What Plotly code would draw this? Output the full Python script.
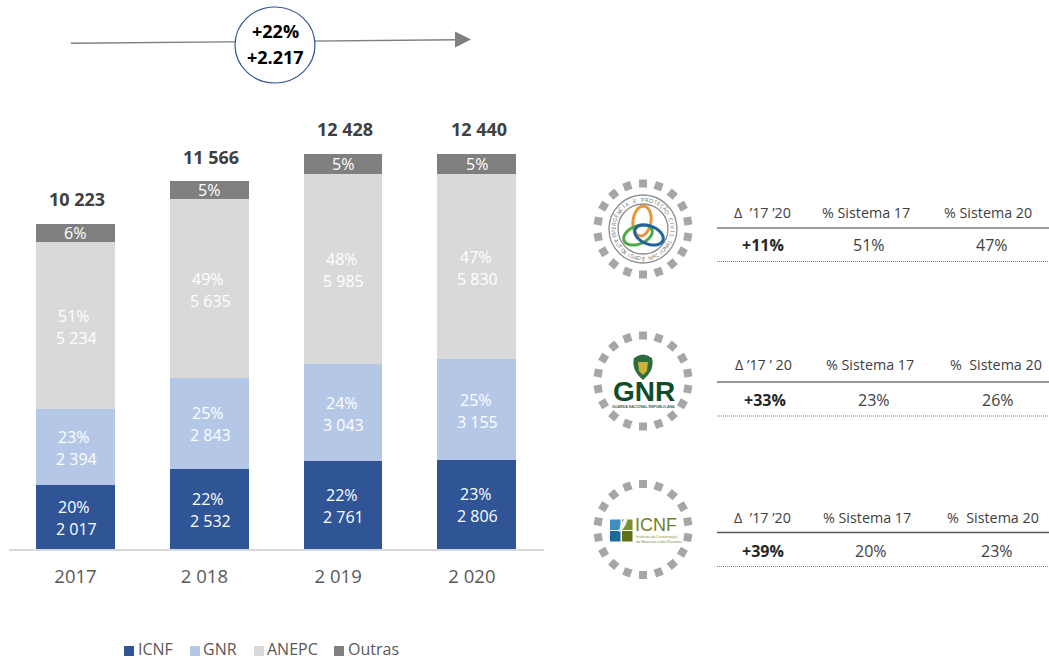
import math
import plotly.graph_objects as go

# ---------- data ----------
years = ["2017", "2018", "2019", "2020"]
year_labels = ["2017", "2 018\u00a0\u00a0", "2 019\u00a0\u00a0", "2 020\u00a0\u00a0"]
series_names = ["ICNF", "GNR", "ANEPC", "Outras"]
icnf = [2017, 2532, 2761, 2806]
gnr = [2394, 2843, 3043, 3155]
anepc = [5234, 5635, 5985, 5830]
outras = [578, 556, 639, 649]
totals = [10223, 11566, 12428, 12440]
icnf_pct = ["20%", "22%", "22%", "23%"]
gnr_pct = ["23%", "25%", "24%", "25%"]
anepc_pct = ["51%", "49%", "48%", "47%"]
outras_pct = ["6%", "5%", "5%", "5%"]
series_colors = ["#2F5597", "#B4C7E7", "#D9D9D9", "#7F7F7F"]

headers_anepc = ["\u0394  \u201917 \u201920", "% Sistema 17", "% Sistema 20"]
headers_gnr = ["\u0394 \u201917 \u2019 20", "% Sistema 17", "%  Sistema 20"]
headers_icnf = ["\u0394  \u201917 \u201920", "% Sistema 17", "%  Sistema 20"]
values_anepc = ["+11%", "51%", "47%"]
values_gnr = ["+33%", "23%", "26%"]
values_icnf = ["+39%", "20%", "23%"]
growth_label = ["+22%", "+2.217"]

W, H = 1049, 659
BASE_Y = 549
SCALE = (549 - 153.5) / 12440
FONT = "Open Sans"

fig = go.Figure()
stack = [(icnf, icnf_pct), (gnr, gnr_pct), (anepc, anepc_pct), (outras, outras_pct)]
for name, color, (vals, _) in zip(series_names, series_colors, stack):
    fig.add_trace(go.Bar(x=years, y=vals, name=name, marker=dict(color=color, line=dict(width=0)),
                         showlegend=False, hoverinfo="x+y+name"))

ann = []
shapes = []


def px_text(x, y, text, size=14, color="#404040", bold=False, angle=0, family=FONT, xanchor="center"):
    ann.append(dict(x=x, y=y, xref="x2", yref="y2", text=f"<b>{text}</b>" if bold else text,
                    showarrow=False, xanchor=xanchor, yanchor="middle", textangle=angle,
                    font=dict(size=size, color=color, family=family), borderpad=0, borderwidth=0))


def fmt(v):
    return f"{v:,}".replace(",", " ")


# labels inside the bars (x = category position)
for j, yr in enumerate(years):
    bottom = 0
    for k, (vals, pcts) in enumerate(stack):
        mid = bottom + vals[j] / 2
        bottom += vals[j]
        if k == 3:
            ann.append(dict(x=j, y=mid, xref="x", yref="y", text=pcts[j], showarrow=False,
                            font=dict(size=16, color="white", family=FONT)))
        else:
            ann.append(dict(x=j, y=mid, xref="x", yref="y", text=pcts[j], showarrow=False, yshift=10,
                            xshift=-1, font=dict(size=16, color="white", family=FONT)))
            ann.append(dict(x=j, y=mid, xref="x", yref="y", text=fmt(vals[j]), showarrow=False, yshift=-12,
                            xshift=1, font=dict(size=16, color="white", family=FONT)))
    ann.append(dict(x=j, y=totals[j], xref="x", yref="y", text=f"<b>{fmt(totals[j])}</b>", showarrow=False,
                    yshift=24.5, xshift=2, font=dict(size=18, color="#404040", family=FONT)))

# growth arrow and badge
shapes.append(dict(type="line", xref="x2", yref="y2", x0=71, y0=43.3, x1=458, y1=39.7,
                   line=dict(color="#7F7F7F", width=1.4)))
shapes.append(dict(type="path", xref="x2", yref="y2", path="M455,31.5 L471,39.5 L455,47.5 Z",
                   fillcolor="#7F7F7F", line=dict(width=0)))
shapes.append(dict(type="circle", xref="x2", yref="y2", x0=235, y0=7, x1=315, y1=83,
                   fillcolor="white", line=dict(color="#2F5597", width=1.2)))
px_text(275.5, 31, growth_label[0], size=18, color="#000000", bold=True)
px_text(275.5, 57, growth_label[1], size=18, color="#000000", bold=True)

# legend
legend_square_x = [124, 190, 254, 334]
legend_text_x = [138, 203, 267, 348]
for name, color, sx, tx in zip(series_names, series_colors, legend_square_x, legend_text_x):
    shapes.append(dict(type="rect", xref="x2", yref="y2", x0=sx, x1=sx + 10, y0=646, y1=656,
                       fillcolor=color, line=dict(width=0)))
    px_text(tx, 649, name, size=16, color="#595959", xanchor="left")


# tables
def table(headers, values, hx, vx, hy, rule_y, vy, dot_y, rule_color, rule_w):
    for h, x in zip(headers, hx):
        px_text(x, hy, h, size=14.3, color="#404040")
    for i, (v, x) in enumerate(zip(values, vx)):
        px_text(x, vy, v, size=16, color="#262626" if i == 0 else "#404040", bold=i == 0)
    shapes.append(dict(type="line", xref="x2", yref="y2", x0=717, x1=1049, y0=rule_y, y1=rule_y,
                       line=dict(color=rule_color, width=rule_w)))
    shapes.append(dict(type="line", xref="x2", yref="y2", x0=717, x1=1049, y0=dot_y, y1=dot_y,
                       line=dict(color="#7F7F7F", width=1, dash="1px,1px")))


table(headers_anepc, values_anepc, [762, 866, 988], [763, 869, 992], 212.5, 228, 245, 261.5, "#7F7F7F", 1.6)
table(headers_gnr, values_gnr, [763, 870, 996], [765, 874, 998], 364, 382, 400, 416, "#333333", 1.2)
table(headers_icnf, values_icnf, [762, 867, 993], [763, 871, 997], 517, 532.5, 550.5, 566.5, "#595959", 1.4)

# logos: dashed grey ring of rotated squares
ring_x, ring_y, ring_a = [], [], []
for cx, cy in [(643, 229), (643, 381), (643, 529.5)]:
    for i in range(18):
        t = i * 20
        ring_x.append(cx + 45.5 * math.sin(math.radians(t)))
        ring_y.append(cy - 45.5 * math.cos(math.radians(t)))
        ring_a.append(t)
fig.add_trace(go.Scatter(x=ring_x, y=ring_y, xaxis="x2", yaxis="y2", mode="markers", showlegend=False,
                         hoverinfo="skip",
                         marker=dict(symbol="square", size=8, color="#A6A6A6", angle=ring_a, line=dict(width=0))))


def ellipse_path(cx, cy, rx, ry, rot):
    r = math.radians(rot)
    pts = []
    for d in range(0, 360, 12):
        a = math.radians(d)
        ex, ey = rx * math.cos(a), ry * math.sin(a)
        pts.append(f"{cx + ex * math.cos(r) - ey * math.sin(r):.2f},{cy + ex * math.sin(r) + ey * math.cos(r):.2f}")
    return "M" + " L".join(pts) + " Z"


def logo_shape(path, fill="rgba(0,0,0,0)", line="rgba(0,0,0,0)", width=0):
    shapes.append(dict(type="path", xref="x2", yref="y2", path=path, fillcolor=fill,
                       line=dict(color=line, width=width)))


# ANEPC emblem
for r, c, w in [(34, "#8C8C8C", 1.3), (25, "#8C8C8C", 1.3)]:
    shapes.append(dict(type="circle", xref="x2", yref="y2", x0=643 - r, x1=643 + r, y0=229 - r, y1=229 + r,
                       line=dict(color=c, width=w)))
logo_shape(ellipse_path(642, 221, 9, 15, 8), line="#E8973A", width=3)
logo_shape(ellipse_path(638, 235, 15, 9, -22), line="#4FA84A", width=3)
logo_shape(ellipse_path(649, 235, 15, 9, 22), line="#23629F", width=3)
top_text = "EMERGÊNCIA E PROTEÇÃO CIVIL"
for i, ch in enumerate(top_text):
    t = -104 + i * 208 / (len(top_text) - 1)
    if ch != " ":
        px_text(643 + 29.5 * math.sin(math.radians(t)), 229 - 29.5 * math.cos(math.radians(t)), ch,
                size=5.5, color="#6E6E6E", angle=t)
bottom_text = "AUTORIDADE NACIONAL"
for i, ch in enumerate(bottom_text):
    t = -66 + i * 132 / (len(bottom_text) - 1)
    if ch != " ":
        px_text(643 + 29.5 * math.sin(math.radians(t)), 229 + 29.5 * math.cos(math.radians(t)), ch,
                size=5.5, color="#6E6E6E", angle=-t)

# GNR emblem
logo_shape("M634,358 Q643,351 652,358 Q655,370 643,380 Q631,370 634,358 Z", fill="#2E6B3E")
logo_shape("M638,362 L648,362 L647,371 L643,375 L639,371 Z", fill="#C9B13A")
px_text(643.5, 391, "GNR", size=28, color="#0E4D2A", bold=True, family="Liberation Sans")
px_text(643.5, 406.5, "GUARDA NACIONAL REPUBLICANA", size=3.6, color="#3C6B4E", bold=True, family="Liberation Sans")

# ICNF emblem
for x0, y0, c in [(610, 519.5, "#3D8FC2"), (622, 519.5, "#7C8F2E"), (610, 531, "#1C6A9C"), (622, 531, "#5F7119")]:
    shapes.append(dict(type="rect", xref="x2", yref="y2", x0=x0, x1=x0 + 10.5, y0=y0, y1=y0 + 10.5,
                       fillcolor=c, line=dict(width=0)))
logo_shape("M619,532 Q620,521 628,516 Q627,526 621,531 Z", fill="#F2F2F2")
px_text(635, 524.5, "ICNF", size=18, color="#71812A", family="Liberation Sans", xanchor="left")
px_text(636, 536.5, "Instituto da Conservação", size=3.6, color="#71812A", xanchor="left")
px_text(636, 541, "da Natureza e das Florestas", size=3.6, color="#71812A", xanchor="left")

fig.update_layout(
    width=W, height=H, autosize=False,
    margin=dict(l=0, r=0, t=0, b=0),
    paper_bgcolor="white", plot_bgcolor="rgba(0,0,0,0)",
    barmode="stack", bargap=0.41, showlegend=False,
    font=dict(family=FONT, color="#595959"),
    annotations=ann, shapes=shapes,
    xaxis=dict(domain=[8.6 / W, 543.6 / W], tickmode="array", tickvals=years, ticktext=year_labels,
               type="category", categoryorder="array", categoryarray=years, range=[-0.5, 3.5],
               showline=True, linecolor="#D9D9D9", linewidth=2, showgrid=False, ticks="",
               tickfont=dict(size=18.5, color="#595959", family=FONT), ticklabelstandoff=10,
               anchor="y", fixedrange=True, zeroline=False, automargin=False),
    yaxis=dict(domain=[(H - BASE_Y) / H, 1], range=[0, BASE_Y / SCALE], visible=False, fixedrange=True),
    xaxis2=dict(domain=[0, 1], range=[0, W], visible=False, anchor="y2", fixedrange=True),
    yaxis2=dict(domain=[0, 1], range=[H, 0], visible=False, anchor="x2", fixedrange=True),
)
fig.write_html("out.html", config={"displayModeBar": False},
               post_script="document.body.style.margin='0';")
